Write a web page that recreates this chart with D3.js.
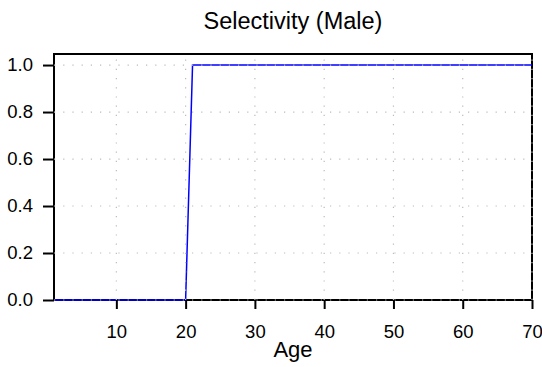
<!DOCTYPE html>
<html><head><meta charset="utf-8">
<script src="https://cdn.jsdelivr.net/npm/d3@7"></script>
<style>body{margin:0;background:#fff}svg{display:block}text{font-family:"Liberation Sans",Arial,sans-serif}</style>
</head><body><svg id="c" width="542" height="367"></svg>
<script>
const ages = d3.range(1, 71);
const selectivity = ages.map(a => a <= 20 ? 0 : 1);
const xTicks = [10, 20, 30, 40, 50, 60, 70];
const yTicks = [0, 0.2, 0.4, 0.6, 0.8, 1.0];
const title = "Selectivity (Male)";
const xLabel = "Age";

const svg = d3.select("#c");
const L = 54, R = 532, T = 54, B = 300;
const x = d3.scaleLinear().domain([1, 70]).range([L, R]);
const y = d3.scaleLinear().domain([0, 1.047]).range([B, T]);

// frame
svg.append("rect").attr("x", L).attr("y", T).attr("width", R - L).attr("height", B - T)
  .attr("fill", "none").attr("stroke", "#000").attr("stroke-width", 2);

// data line
svg.append("path").datum(ages.map((a, i) => [a, selectivity[i]]))
  .attr("d", d3.line().x(d => x(d[0])).y(d => y(d[1])))
  .attr("fill", "none").attr("stroke", "#0000ff").attr("stroke-width", 1.5);

// grid (drawn on top)
const g = svg.append("g").attr("stroke", "#bbb").attr("stroke-width", 1.2).attr("stroke-dasharray", "1.2,8");
g.selectAll("line.v").data(xTicks).join("line")
  .attr("x1", d => x(d)).attr("x2", d => x(d)).attr("y1", B).attr("y2", T);
g.selectAll("line.h").data(yTicks).join("line")
  .attr("y1", d => y(d)).attr("y2", d => y(d)).attr("x1", L).attr("x2", R);

// axes
const xa = svg.append("g").attr("transform", `translate(0,${B})`)
  .call(d3.axisBottom(x).tickValues(xTicks).tickSize(9).tickPadding(16).tickFormat(d3.format("d")));
const ya = svg.append("g").attr("transform", `translate(${L},0)`)
  .call(d3.axisLeft(y).tickValues(yTicks).tickSize(11).tickPadding(10).tickFormat(d3.format(".1f")));
[xa, ya].forEach(a => {
  a.attr("font-size", null).attr("font-family", null);
  a.select(".domain").remove();
  a.selectAll(".tick line").attr("stroke", "#000").attr("stroke-width", 2);
  a.selectAll(".tick text").style("font-size", "18.5px").attr("fill", "#000");
});

svg.append("text").attr("x", (L + R) / 2).attr("y", 29).attr("text-anchor", "middle")
  .style("font-size", "23.5px").text(title);
svg.append("text").attr("x", (L + R) / 2).attr("y", 357).attr("text-anchor", "middle")
  .style("font-size", "22px").text(xLabel);
</script></body></html>
